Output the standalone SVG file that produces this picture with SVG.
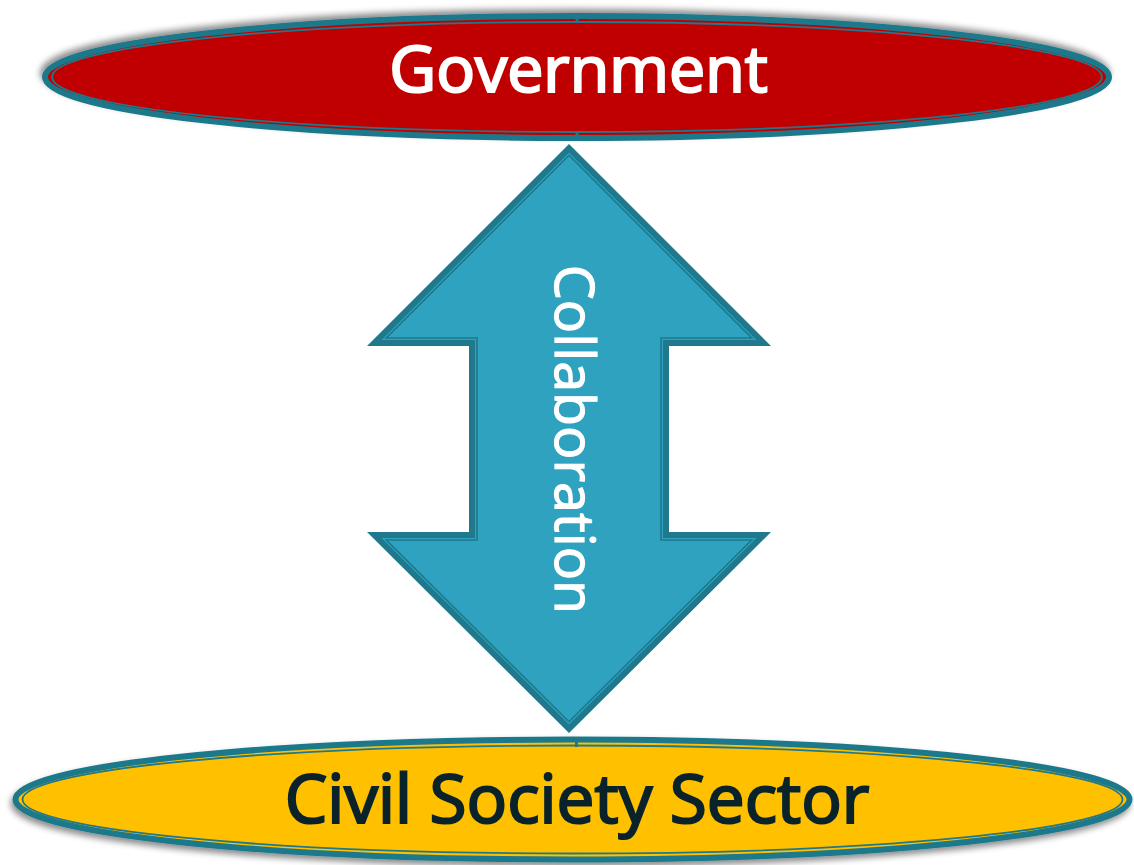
<svg xmlns="http://www.w3.org/2000/svg" width="1134" height="865" viewBox="0 0 1134 865">
  <defs>
    <filter id="shadowUp" x="-5%" y="-30%" width="110%" height="160%">
      <feDropShadow dx="-2" dy="-4" stdDeviation="3" flood-color="#000" flood-opacity="0.45"/>
    </filter>
    <filter id="shadowDown" x="-5%" y="-30%" width="110%" height="160%">
      <feDropShadow dx="-2" dy="4" stdDeviation="3" flood-color="#000" flood-opacity="0.45"/>
    </filter>
  </defs>
  <style>
    .rim { stroke: #1F788B; stroke-width: 6; }
    .inner { fill: none; stroke: #1F788B; stroke-width: 1.8; }
    .label { font-family: "Open Sans", "Noto Sans", "Liberation Sans", sans-serif; font-weight: 400; text-anchor: middle; }
    .tick { fill: #1F788B; }
  </style>

  <g id="government">
    <ellipse cx="577" cy="77" rx="532" ry="61" fill="#C00000" class="rim" filter="url(#shadowUp)"/>
    <ellipse cx="577" cy="77" rx="525" ry="55" class="inner"/>
    <rect x="575.5" y="14" width="3" height="9" class="tick"/>
    <rect x="575.5" y="131" width="3" height="10" class="tick"/>
    <text x="578.5" y="92" class="label" font-size="64.5" fill="#FFFFFF" stroke="#FFFFFF" stroke-width="2.2">Government</text>
  </g>

  <g id="civil-society-sector">
    <ellipse cx="572.5" cy="799.5" rx="557" ry="60" fill="#FFC000" class="rim" filter="url(#shadowDown)"/>
    <ellipse cx="572.5" cy="799.5" rx="550" ry="54" class="inner"/>
    <rect x="575" y="737" width="3" height="10" class="tick"/>
    <text x="577" y="823" class="label" font-size="67.5" fill="#0A232A" stroke="#0A232A" stroke-width="2.2">Civil Society Sector</text>
  </g>

  <g id="connectors">
    <g id="collaboration-arrow">
      <polygon fill="#1F788B" points="569,144 771,346 669,346 669,532 771,532 569,733 367,532 469,532 469,346 367,346"/>
      <polygon fill="#2EA2BF" points="569,152.5 756.5,340 663,340 663,538 756.5,538 569,724.5 381.5,538 475,538 475,340 381.5,340"/>
      <polygon fill="none" stroke="#1F788B" stroke-width="1.6" points="569,155.3 751.7,338 661,338 661,540 751.7,540 569,721.7 386.3,540 477,540 477,338 386.3,338"/>
      <text transform="translate(555,439.5) rotate(90)" x="0" y="0" class="label" font-size="55.5" fill="#FFFFFF" stroke="#FFFFFF" stroke-width="1.2">Collaboration</text>
    </g>
  </g>
</svg>
